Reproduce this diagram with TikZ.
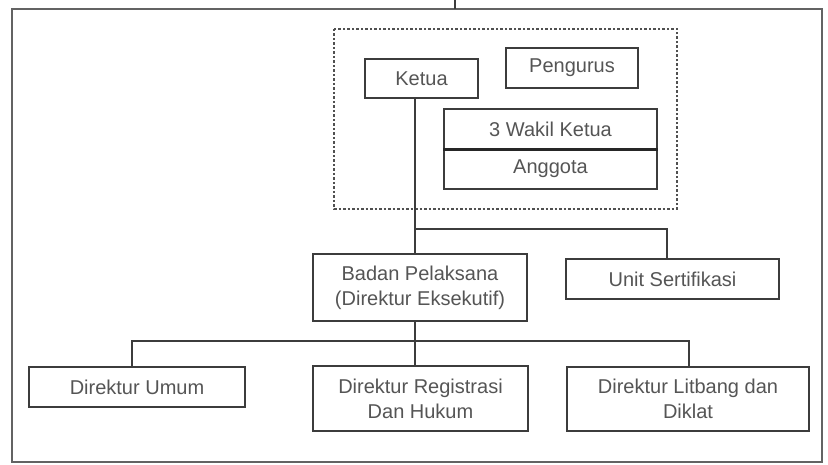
\documentclass[tikz,border=0pt]{standalone}
\usepackage{fontspec}
\setmainfont{Liberation Sans}
\definecolor{linec}{HTML}{3C3C3C}
\definecolor{textc}{HTML}{555555}
\definecolor{dashc}{HTML}{505050}
\begin{document}
\begin{tikzpicture}[x=1pt,y=-1pt,
  box/.style={draw=linec, line width=1.6pt, fill=white, rectangle, inner sep=0pt,
    text=textc, align=center, font=\fontsize{20}{25}\selectfont},
  conn/.style={draw=linec, line width=1.6pt}]
\useasboundingbox (0,0) rectangle (828,465);
\fill[white] (0,0) rectangle (828,465);
% outer frame
\draw[draw=linec!80, line width=1.8pt] (12,9) rectangle (822,462);
\coordinate (topin) at (455,0);
\draw[conn] (topin) -- (455,9);
% dashed group
\draw[draw=dashc, line width=1.5pt, dash pattern=on 2.5pt off 2pt] (334,29) rectangle (677,209);
% junction coordinates
\coordinate (sp) at (415,0);
\coordinate (j1) at (415,229);
\coordinate (uj) at (667,229);
\coordinate (j2) at (415,341);
\coordinate (lj) at (132,341);
\coordinate (rj) at (689,341);
% connectors (drawn first, boxes on top)
\node[box, minimum width=113pt, minimum height=39pt] (ketua) at (421.5,78.5) {Ketua};
\node[box, minimum width=214pt, minimum height=67pt] (badan) at (420,287.5) {Badan Pelaksana\\(Direktur Eksekutif)};
\node[box, minimum width=213pt, minimum height=40pt] (unit) at (672.5,279) {Unit Sertifikasi};
\node[box, minimum width=216pt, minimum height=40pt] (umum) at (137,387) {Direktur Umum};
\node[box, minimum width=215pt, minimum height=65pt] (reg) at (420.5,398.5) {Direktur Registrasi\\Dan Hukum};
\node[box, minimum width=242pt, minimum height=64pt] (lit) at (688,399) {Direktur Litbang dan\\Diklat};
\draw[conn] (ketua.south -| sp) -- (badan.north -| sp);
\draw[conn] (j1) -- (uj) -- (uj |- unit.north);
\draw[conn] (badan.south -| sp) -- (reg.north -| sp);
\draw[conn] (lj |- umum.north) -- (lj) -- (rj) -- (rj |- lit.north);
\node[box, minimum width=132pt, minimum height=40pt] (peng) at (572,68) {Pengurus};
\node[box, minimum width=213pt, minimum height=40pt] (wakil) at (550.5,129) {3 Wakil Ketua};
\node[box, minimum width=213pt, minimum height=40pt] (ang) at (550.5,169) {Anggota};
\draw[draw=black!85, line width=2.6pt] (wakil.south west) -- (wakil.south east);
\end{tikzpicture}
\end{document}
